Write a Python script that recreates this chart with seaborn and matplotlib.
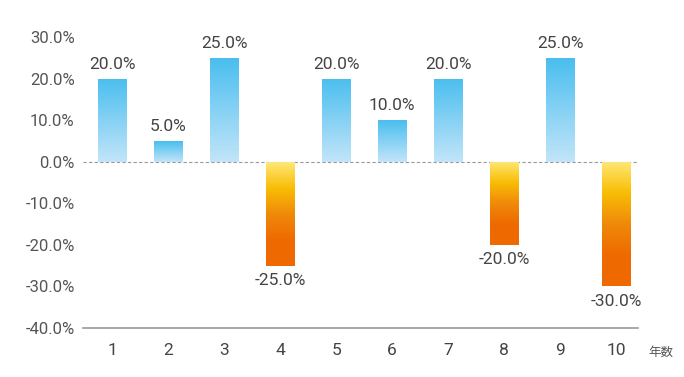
import numpy as np
import pandas as pd
import matplotlib
matplotlib.use("Agg")
import matplotlib.pyplot as plt
from matplotlib.colors import LinearSegmentedColormap
import seaborn as sns

years = [1, 2, 3, 4, 5, 6, 7, 8, 9, 10]
returns = [20.0, 5.0, 25.0, -25.0, 20.0, 10.0, 20.0, -20.0, 25.0, -30.0]
y_ticks = [-40, -30, -20, -10, 0, 10, 20, 30]
x_unit = "年数"

sns.set_theme(style="white")
plt.rcParams['font.family'] = ['Roboto', 'Noto Sans CJK JP', 'DejaVu Sans']

df = pd.DataFrame({"year": [str(y) for y in years], "ret": returns})

fig = plt.figure(figsize=(6.84, 3.77), dpi=100)
ax = fig.add_axes([0.1213, 0.130, 0.8114, 0.772])
sns.barplot(data=df, x="year", y="ret", ax=ax, width=0.5, color="#4BBFEF",
            linewidth=0, saturation=1)

ax.set_ylim(-40, 30)
ax.set_xlim(-0.52, 9.39)

blue_cmap = LinearSegmentedColormap.from_list("b", ["#C2E5F9", "#4ABEEF"])
orange_cmap = LinearSegmentedColormap.from_list("o", ["#FFE777", "#F8BE05", "#F08A0A", "#EE6A00", "#EE6A00"])

grad = np.linspace(0, 1, 256).reshape(-1, 1)
for patch, v in zip(ax.patches, returns):
    x0 = patch.get_x()
    w = patch.get_width()
    patch.set_facecolor("none")
    if v >= 0:
        im = ax.imshow(grad, cmap=blue_cmap, aspect="auto",
                       extent=[x0, x0 + w, 0, v], origin="lower", zorder=2)
    else:
        im = ax.imshow(grad[::-1], cmap=orange_cmap, aspect="auto",
                       extent=[x0, x0 + w, v, 0], origin="lower", zorder=2)
    im.set_clip_path(patch)
    cx = x0 + w / 2
    if v >= 0:
        ax.text(cx, v + 1.6, f"{v:.1f}%", ha="center", va="bottom",
                fontsize=12.5, color="#444444")
    else:
        ax.text(cx, v - 1.8, f"{v:.1f}%", ha="center", va="top",
                fontsize=12.5, color="#444444")

ax.set_xlim(-0.52, 9.39)
ax.set_ylim(-40, 30)
ax.axhline(0, color="#999999", lw=0.8, ls=(0, (3, 2)), zorder=1)

ax.set_yticks(y_ticks)
ax.set_yticklabels([f"{t:.1f}%" for t in y_ticks], fontsize=12, color="#555555")
ax.set_xticks(range(len(years)))
ax.set_xticklabels([str(y) for y in years], fontsize=12.5, color="#444444")
ax.tick_params(axis="x", length=5, width=0.8, color="#cccccc", pad=6, direction="out")
ax.tick_params(axis="y", length=0, pad=6)
ax.set_xlabel("")
ax.set_ylabel("")
for s in ["top", "right", "left"]:
    ax.spines[s].set_visible(False)
ax.spines["bottom"].set_color("#999999")
ax.spines["bottom"].set_linewidth(1.2)

fig.text(648 / 684, 1 - 352 / 377, x_unit, fontsize=9, color="#555555",
         family=['Noto Sans CJK JP', 'DejaVu Sans'], ha="left", va="center")

fig.savefig("out.png", dpi=100)
